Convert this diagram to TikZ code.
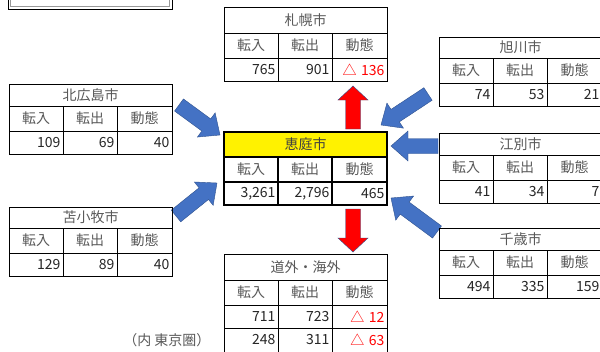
\documentclass[tikz,border=0pt]{standalone}
\usepackage{fontspec}
\setmainfont{Noto Sans CJK JP}
\usetikzlibrary{calc}
\definecolor{arrblue}{HTML}{4472C4}
\definecolor{arrblueline}{HTML}{2F528F}
\definecolor{arrred}{HTML}{FF0000}
\definecolor{lbl}{HTML}{595959}
\definecolor{num}{HTML}{262626}
\tikzset{
  tcell/.style={draw=black, line width=0.8pt, outer sep=0pt, inner sep=0pt, anchor=north west,
    font=\fontsize{14}{16}\selectfont, text=lbl},
  ncell/.style={tcell, text=num, inner xsep=2.5pt, align=right},
  bluearrow/.style={fill=arrblue, draw=arrblueline, line width=0.4pt},
  redarrow/.style={fill=arrred, draw=arrblueline, line width=0.4pt},
}
% table: name, x0, y0, y1 (title bottom), title, in, out, dyn
\newcommand\tbl[8]{%
  \node[tcell, minimum width=163pt, minimum height={#4pt-#3pt}] (#1-t) at (#2,#3) {#5};
  \node[tcell, minimum width=54pt, minimum height=25pt] (#1-h1) at (#1-t.south west) {転入};
  \node[tcell, minimum width=54pt, minimum height=25pt] (#1-h2) at (#1-h1.north east) {転出};
  \node[tcell, minimum width=55pt, minimum height=25pt] (#1-h3) at (#1-h2.north east) {動態};
  \node[ncell, text width=49pt, minimum height=23pt] (#1-d1) at (#1-h1.south west) {#6};
  \node[ncell, text width=49pt, minimum height=23pt] (#1-d2) at (#1-d1.north east) {#7};
  \node[ncell, text width=50pt, minimum height=23pt] (#1-d3) at (#1-d2.north east) {#8};
}
% block arrow from named tail to named head
\newcommand\barrow[4]{%
  \coordinate (#1#2n) at ($(#2)!#4!(#1)$);
  \path[#3] ($(#1)!7.5pt!90:(#2)$) -- ($(#1#2n)!7.5pt!90:(#2)$) -- ($(#1#2n)!15pt!90:(#2)$)
    -- (#2) -- ($(#1#2n)!15pt!-90:(#2)$) -- ($(#1#2n)!7.5pt!-90:(#2)$) -- ($(#1)!7.5pt!-90:(#2)$) -- cycle;
}
\begin{document}
\begin{tikzpicture}[x=1pt,y=-1pt]
\useasboundingbox[fill=white] (0,0) rectangle (600,351);
% partial box at top-left
\draw[line width=1pt, black] (8,-5) rectangle (172,9);
\draw[line width=0.8pt, black!40] (10.5,-5) rectangle (169.5,6.3);
% arrow anchor coordinates
\coordinate (kt) at (179,105); \coordinate (kh) at (220,135);
\coordinate (at) at (428,94);  \coordinate (ah) at (381,125);
\coordinate (et) at (438,146); \coordinate (eh) at (391,146);
\coordinate (tt) at (176,216); \coordinate (th) at (217,183);
\coordinate (ct) at (437,232); \coordinate (ch) at (391,198);
\coordinate (ut) at (353,129); \coordinate (uh) at (353,86);
\coordinate (dt) at (353,209); \coordinate (dh) at (353,252);
\barrow{kt}{kh}{bluearrow}{17pt}
\barrow{at}{ah}{bluearrow}{17pt}
\barrow{et}{eh}{bluearrow}{17pt}
\barrow{tt}{th}{bluearrow}{17pt}
\barrow{ct}{ch}{bluearrow}{17pt}
\barrow{ut}{uh}{redarrow}{14pt}
\barrow{dt}{dh}{redarrow}{14pt}
% tables
\tbl{sap}{224}{7}{33}{札幌市}{765}{901}{\textcolor{arrred}{△ 136}}
\tbl{asa}{439}{37}{58}{旭川市}{74}{53}{21}
\tbl{kit}{9}{84}{106}{北広島市}{109}{69}{40}
\tbl{ebe}{439}{133}{155}{江別市}{41}{34}{7}
\tbl{tom}{9}{207}{228}{苫小牧市}{129}{89}{40}
\tbl{chi}{439}{228}{250}{千歳市}{494}{335}{159}
\tbl{ena}{224}{132}{157}{恵庭市}{3,261}{2,796}{465}
\fill[yellow] (ena-t.north west) rectangle (ena-t.south east);
\node[tcell, draw=none, minimum width=163pt, minimum height=25pt, text=black!75] at (ena-t.north west) {恵庭市};
\draw[line width=1.2pt] (ena-t.south west) -- (ena-t.south east)
  (ena-h1.south west) -- (ena-h3.south east)
  (ena-h1.north east) -- (ena-d1.south east)
  (ena-h2.north east) -- (ena-d2.south east);
\draw[line width=2pt] (ena-t.north west) rectangle (ena-d3.south east);
\tbl{dou}{224}{254}{280}{道外・海外}{711}{723}{\textcolor{arrred}{△ 12}}
\node[ncell, text width=49pt, minimum height=24pt] (dou-e1) at (dou-d1.south west) {248};
\node[ncell, text width=49pt, minimum height=24pt] (dou-e2) at (dou-e1.north east) {311};
\node[ncell, text width=50pt, minimum height=24pt] (dou-e3) at (dou-e2.north east) {\textcolor{arrred}{△ 63}};
\node[font=\fontsize{14}{16}\selectfont, text=lbl, anchor=east] (tokyo) at (214,340) {（内 東京圏）};
\end{tikzpicture}
\end{document}
